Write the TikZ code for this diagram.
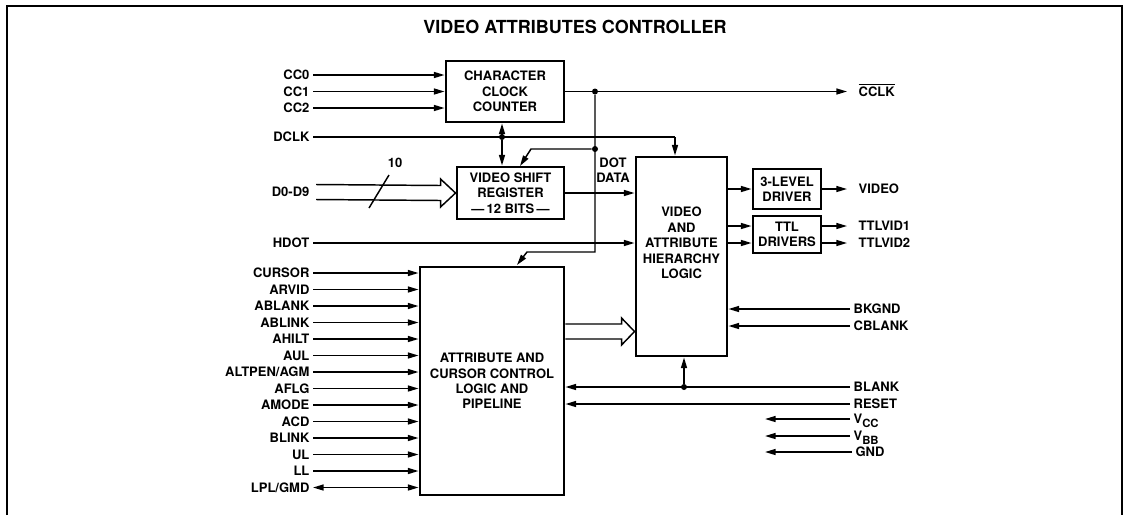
\documentclass[tikz,border=0pt]{standalone}
\usepackage{fontspec}
\setmainfont{TeX Gyre Heros}
\usetikzlibrary{arrows.meta,calc}

\begin{document}
\begin{tikzpicture}[x=0.75pt,y=-0.75pt,
  every node/.style={font=\fontsize{9.75}{11.6}\selectfont\bfseries},
  blk/.style={draw,line width=2.2pt,align=center,inner sep=0pt},
  lbl/.style={inner sep=2.5pt,text height=7pt,text depth=0pt},
  arr/.style={line width=1.1pt,-{Triangle[length=8pt,width=4.5pt]}},
  arrs/.style={line width=1.1pt,{Triangle[length=8pt,width=4.5pt]}-{Triangle[length=8pt,width=4.5pt]}},
  wire/.style={line width=1.1pt},
  bus/.style={line width=1.1pt,line join=miter},
  dot/.style={circle,fill,inner sep=0pt,minimum size=4.5pt}]
  \useasboundingbox (0,0) rectangle (1126,515);

  % Marco y titulo
  \draw[line width=1.5pt] (7,515) -- (7,6) -- (1122,6) -- (1122,515);
  \node[font=\fontsize{13.5}{15}\selectfont\bfseries] (title) at (575,27) {VIDEO ATTRIBUTES CONTROLLER};

  % Bloques
  \node[blk,minimum width=88.5pt,minimum height=45.75pt] (ccc) at (505,91.5) {CHARACTER\\CLOCK\\COUNTER};
  \node[blk,minimum width=80.25pt,minimum height=39pt] (vsr) at (510.5,193) {VIDEO SHIFT\\REGISTER\\---\,12 BITS\,---};
  \node[blk,minimum width=68.25pt,minimum height=149.25pt] (vahl) at (681.5,256.5) {};
  \node[align=center] (vahltxt) at (681.5,243) {VIDEO\\AND\\ATTRIBUTE\\HIERARCHY\\LOGIC};
  \node[blk,minimum width=108pt,minimum height=171pt] (accl) at (492,381) {ATTRIBUTE AND\\CURSOR CONTROL\\LOGIC AND\\PIPELINE};
  \node[blk,minimum width=51pt,minimum height=30pt] (drv) at (787,189) {3-LEVEL\\DRIVER};
  \node[blk,minimum width=51pt,minimum height=27.75pt] (ttl) at (787,234.5) {TTL\\DRIVERS};

  % Contador
  \node[lbl,anchor=east] (cc0) at (313,75) {CC0};
  \node[lbl,anchor=east] (cc1) at (313,91.5) {CC1};
  \node[lbl,anchor=east] (cc2) at (313,108) {CC2};
  \foreach \s in {cc0,cc1,cc2}
    \draw[arr] (\s.east) -- (\s.east -| ccc.west);

  % DCLK
  \node[lbl,anchor=east] (dclk) at (313,137) {DCLK};
  \coordinate (dk) at (675,137);
  \draw[wire] (dclk.east) -- (dk);
  \draw[arr] (dk) -- (dk |- vahl.north);
  \node[dot] (jd) at (502,137) {};
  \draw[arr] (jd) -- (jd |- ccc.south);
  \draw[arr] (jd) -- (jd |- vsr.north);

  % Reloj de caracter
  \node[dot] (j1) at (595,91.5) {};
  \node[dot] (j2) at (595,149) {};
  \coordinate (j3) at (595,252);
  \coordinate (b1) at (531,149);
  \coordinate (b2) at (527,252);
  \coordinate (tp1) at (520,166);
  \coordinate (tp2) at (517,265);
  \node[lbl,anchor=west] (cclk) at (855,91.5) {$\overline{\mbox{CCLK}}$};
  \draw[wire] (ccc.east) -- (j1);
  \draw[arr] (j1) -- ([xshift=-6pt]cclk.west);
  \draw[arr] (j1) -- (j3) -- (b2) -- (tp2);
  \draw[arr] (j2) -- (b1) -- (tp1);

  % Datos
  \node[lbl,anchor=east] (d09) at (313,192) {D0-D9};
  \draw[bus] ($(d09.east)+(3,-7.5)$) -- ($(vsr.west)+(-15,-7.5)$) -- ++(0,-6.5) -- (vsr.west)
    -- ++(-15,14) -- ++(0,-6.5) -- ($(d09.east)+(3,7.5)$);
  \draw[wire] (369,208) -- (389,175);
  \node (w10) at (395,163) {10};
  \draw[arr] (vsr.east) -- (vsr.east -| vahl.west);
  \node[align=center] (dotdata) at (613,170) {DOT\\DATA};
  \node[lbl,anchor=east] (hdot) at (313,243) {HDOT};
  \draw[arr] (hdot.east) -- (hdot.east -| vahl.west);

  % Entradas de atributos
  \foreach \sig [count=\i] in {CURSOR,ARVID,ABLANK,ABLINK,AHILT,AUL,{ALTPEN/AGM},AFLG,AMODE,ACD,BLINK,UL,LL} {
    \node[lbl,anchor=east] (in\i) at (313,256.5+16.5*\i) {\sig};
    \draw[arr] (in\i.east) -- (in\i.east -| accl.west);
  }
  \node[lbl,anchor=east] (lpl) at (313,487.5) {LPL/GMD};
  \draw[arrs] (lpl.east) -- (lpl.east -| accl.west);

  % Bus de atributos
  \path (accl.east) ++(0,-49.5) coordinate (hs);
  \coordinate (ht) at (hs -| vahl.west);
  \draw[bus] ($(hs)+(0,-7.5)$) -- ($(ht)+(-13,-7.5)$) -- ++(0,-6) -- (ht)
    -- ++(-13,13.5) -- ++(0,-6) -- ($(hs)+(0,7.5)$);

  % Salidas
  \draw[arr] (vahl.east |- drv.west) -- (drv.west);
  \node[lbl,anchor=west] (video) at (855,189) {VIDEO};
  \draw[arr] (drv.east) -- ([xshift=-6pt]video.west);
  \coordinate (tin1) at ($(ttl.west)+(0,-8.5)$);
  \coordinate (tin2) at ($(ttl.west)+(0,8.5)$);
  \draw[arr] (vahl.east |- tin1) -- (tin1);
  \draw[arr] (vahl.east |- tin2) -- (tin2);
  \node[lbl,anchor=west] (vid1) at (855,226) {TTLVID1};
  \node[lbl,anchor=west] (vid2) at (855,243) {TTLVID2};
  \draw[arr] (ttl.east |- vid1.west) -- ([xshift=-6pt]vid1.west);
  \draw[arr] (ttl.east |- vid2.west) -- ([xshift=-6pt]vid2.west);

  % Entradas derechas
  \foreach \sig/\nm/\y in {BKGND/bkgnd/309, CBLANK/cblank/326} {
    \node[lbl,anchor=west] (\nm) at (850,\y) {\sig};
    \draw[arr] (\nm.west) -- (\nm.west -| vahl.east);
  }
  \node[lbl,anchor=west] (blank) at (850,387) {BLANK};
  \draw[arr] (blank.west) -- (blank.west -| accl.east);
  \node[dot] (jb) at (684,387) {};
  \draw[arr] (jb) -- (jb |- vahl.south);
  \node[lbl,anchor=west] (reset) at (850,404) {RESET};
  \draw[arr] (reset.west) -- (reset.west -| accl.east);

  % Alimentacion
  \coordinate (pw) at (765,0);
  \node[lbl,anchor=west] (vcc) at (850,419) {V\raisebox{-3pt}{\fontsize{8.5}{9}\selectfont CC}};
  \node[lbl,anchor=west] (vbb) at (850,436) {V\raisebox{-3pt}{\fontsize{8.5}{9}\selectfont BB}};
  \node[lbl,anchor=west] (gnd) at (852,452) {GND};
  \foreach \s in {vcc,vbb,gnd}
    \draw[arr] (\s.west) -- (\s.west -| pw);
\end{tikzpicture}
\end{document}
